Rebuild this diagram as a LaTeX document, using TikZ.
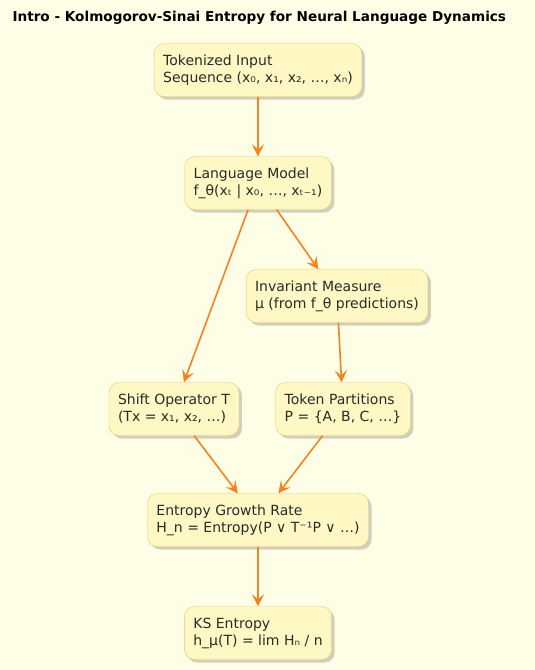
\documentclass[tikz,border=0pt]{standalone}
\usepackage{fontspec}
\setmainfont{DejaVu Sans}
\usetikzlibrary{arrows.meta, positioning, shadows}
\definecolor{pageBg}{HTML}{FEFEE6}
\definecolor{noteFill}{HTML}{FFF8C4}
\definecolor{noteLine}{HTML}{EEC468}
\definecolor{flowOrange}{HTML}{F5821F}
\definecolor{inkDark}{HTML}{2A2A2A}
\tikzset{
  arrowO/.style={-{Stealth[length=12pt, width=12pt, inset=5pt]}, flowOrange, line width=1.6pt},
  boxY/.style={rectangle, rounded corners=10pt, draw=noteLine, fill=noteFill,
               text=inkDark, align=left, font=\fontsize{14}{17}\selectfont,
               inner xsep=9pt, inner ysep=4pt, minimum height=53pt,
               drop shadow={shadow xshift=3pt, shadow yshift=-3pt, opacity=.3, fill=black!60}},
}
\begin{document}
\begin{tikzpicture}[x=1pt, y=-1pt]
    \useasboundingbox[fill=pageBg] (0,0) rectangle (535,670);
    \node[anchor=west, font=\bfseries\fontsize{13.6}{16}\selectfont] (title) at (9,18) {Intro - Kolmogorov-Sinai Entropy for Neural Language Dynamics};
    \node[boxY] (tokin) at (258,70) {Tokenized Input\\Sequence (x₀, x₁, x₂, …, xₙ)};
    \node[boxY] (langmod) at (258,183) {Language Model\\f\_θ(xₜ | x₀, …, xₜ₋₁)};
    \node[boxY] (invmeas) at (337,296) {Invariant Measure\\μ (from f\_θ predictions)};
    \node[boxY] (shiftop) at (174,409) {Shift Operator T\\(Tx = x₁, x₂, …)};
    \node[boxY] (tokpart) at (343,409) {Token Partitions\\P = \{A, B, C, …\}};
    \node[boxY] (entrate) at (258,520) {Entropy Growth Rate\\H\_n = Entropy(P ∨ T⁻¹P ∨ …)};
    \node[boxY] (ksent) at (258,633) {KS Entropy\\h\_μ(T) = lim Hₙ / n};
    \draw[arrowO] (tokin)--(langmod); \draw[arrowO] (langmod)--(shiftop);
    \draw[arrowO] (langmod)--(invmeas); \draw[arrowO] (invmeas)--(tokpart);
    \draw[arrowO] (shiftop)--(entrate); \draw[arrowO] (tokpart)--(entrate);
    \draw[arrowO] (entrate)--(ksent);
  \end{tikzpicture}
\end{document}
